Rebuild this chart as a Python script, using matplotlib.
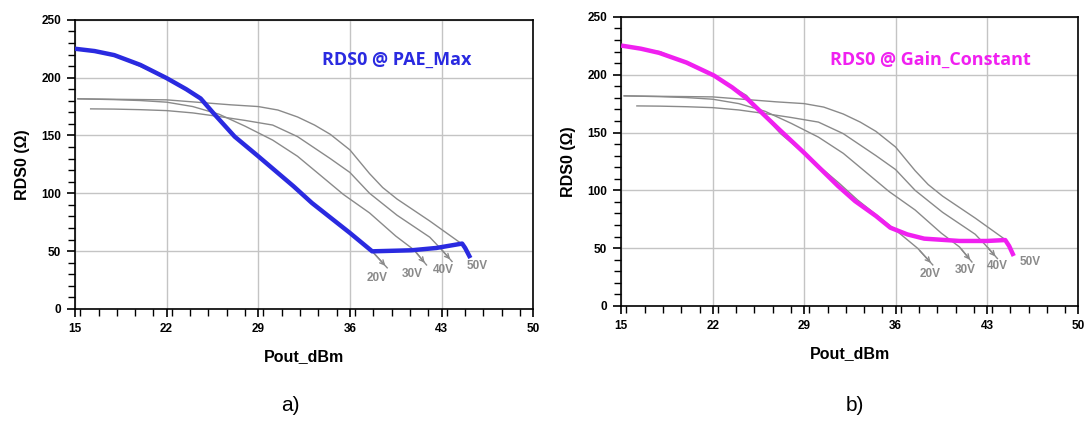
import numpy as np
import matplotlib
matplotlib.use("Agg")
import matplotlib.pyplot as plt
from matplotlib.ticker import MultipleLocator

# x ticks / limits
xticks = [15, 22, 29, 36, 43, 50]
yticks = [0, 50, 100, 150, 200, 250]

# gray load-line curves (RDS0 vs Pout for each drain voltage)
v20_x = [15, 18, 22, 24.6, 25.6, 27.2, 29, 31.7, 33.1, 36, 37.7, 38.85]
v20_y = [225, 219.8, 199.6, 182, 169, 149, 132, 106, 91.6, 65.7, 49.8, 35.5]
v30_x = [15.23, 18, 20, 22, 24, 26, 28, 30.1, 32, 33.7, 35.5, 37.5, 39.5, 40.9, 41.85]
v30_y = [181.7, 181, 180.2, 178.8, 175, 168.4, 158, 146, 132, 116, 99, 83, 63, 51, 38]
v40_x = [16.2, 18, 20, 22, 24, 26, 28, 30.1, 32, 34.5, 36, 37.5, 39.6, 42.1, 42.9, 43.8]
v40_y = [173, 172.8, 172.3, 171.5, 169.5, 166.4, 163, 159, 149, 130, 118, 100, 81, 62, 52.5, 41]
v50_x = [15.23, 18, 22, 26.9, 29, 30.5, 32, 33.3, 34.5, 36, 37.5, 38.5, 39.6, 42.1, 44.45]
v50_y = [181.7, 181.3, 180.8, 176.5, 175, 172, 166, 159, 151, 137.5, 117, 105, 95, 76, 57]
volt_labels = ["20V", "30V", "40V", "50V"]

# RDS0 @ PAE_Max
pae_x = [15, 16.5, 18, 20, 22, 23.5, 24.6, 25.6, 27.2, 29, 31.7, 33.1, 36, 37.7, 40.7, 42.6, 44.57, 44.8, 45.2]
pae_y = [225, 223, 219.5, 211, 199.6, 190, 182, 169, 149, 132, 106, 91.6, 65.7, 49.8, 50.7, 52.7, 56.5, 52.7, 44]

# RDS0 @ Gain_Constant
gain_x = [15, 16.5, 17.9, 20, 22.1, 23.5, 24.7, 27.1, 29, 31.6, 32.9, 34.5, 35.6, 36.9, 38.2, 40.9, 43, 44.4, 44.7, 45.05]
gain_y = [225.2, 222.5, 218.9, 210.5, 199.3, 189, 178.6, 152.6, 132.5, 103.7, 90.7, 77.8, 67.7, 61.9, 58.2, 56.2, 56.2, 57, 51.8, 43.2]

plt.rcParams['font.family'] = ['Liberation Sans', 'DejaVu Sans']

fig = plt.figure(figsize=(10.86, 4.22), dpi=100)
ax1 = fig.add_axes([0.069, 0.268, 0.422, 0.685])
ax2 = fig.add_axes([0.572, 0.275, 0.421, 0.685])

gray = '#8a8a8a'
volts = [(v20_x, v20_y), (v30_x, v30_y), (v40_x, v40_y), (v50_x, v50_y)]


def draw_panel(ax, cx, cy, color, title, title_pos, label_pos):
    for i, (vx, vy) in enumerate(volts):
        ax.plot(vx, vy, color=gray, lw=1.0, zorder=2)
        if i < 3:
            ax.annotate('', xy=(vx[-1], vy[-1]), xytext=(vx[-2], vy[-2]),
                        arrowprops=dict(arrowstyle='->', color=gray, lw=1.0,
                                        mutation_scale=8), zorder=2)
        ax.text(label_pos[i][0], label_pos[i][1], volt_labels[i], color='#8a8a8a',
                fontsize=8.5, fontweight='bold', ha='center', va='center')
    ax.plot(cx, cy, color=color, lw=3.2, solid_capstyle='butt',
            solid_joinstyle='round', zorder=3)
    ax.text(title_pos[0], title_pos[1], title, color=color, fontsize=13,
            fontweight='bold', family=['Open Sans', 'DejaVu Sans'], ha='left', va='center')

    ax.set_xlim(15, 50)
    ax.set_ylim(0, 250)
    ax.set_xticks(xticks)
    ax.set_yticks(yticks)
    ax.xaxis.set_minor_locator(MultipleLocator(1.4))
    ax.yaxis.set_minor_locator(MultipleLocator(10))
    ax.tick_params(which='major', direction='out', length=6, width=1.2, labelsize=8.5, pad=4)
    ax.tick_params(which='minor', direction='out', length=5, width=1.0)
    for lab in ax.get_xticklabels() + ax.get_yticklabels():
        lab.set_fontweight('bold')
    ax.grid(True, which='major', color='#c4c4c4', lw=1.0)
    ax.set_axisbelow(True)
    for s in ax.spines.values():
        s.set_linewidth(1.2)
    ax.set_xlabel('Pout_dBm', fontsize=11.5, fontweight='bold', labelpad=10)
    ax.set_ylabel('RDS0 (\u03a9)', fontsize=11.5, fontweight='bold', labelpad=8)


draw_panel(ax1, pae_x, pae_y, '#2a2ae0', 'RDS0 @ PAE_Max', (33.9, 215),
           [(38.05, 27), (40.73, 30.3), (43.15, 33.7), (45.7, 37.3)])
draw_panel(ax2, gain_x, gain_y, '#f020f0', 'RDS0 @ Gain_Constant', (31.0, 213),
           [(38.66, 27.7), (41.35, 31.1), (43.77, 34.6), (46.3, 37.8)])

fig.text(0.267, 0.04, 'a)', fontsize=15, ha='center', va='center')
fig.text(0.787, 0.04, 'b)', fontsize=15, ha='center', va='center')

fig.savefig('out.png', dpi=100)
